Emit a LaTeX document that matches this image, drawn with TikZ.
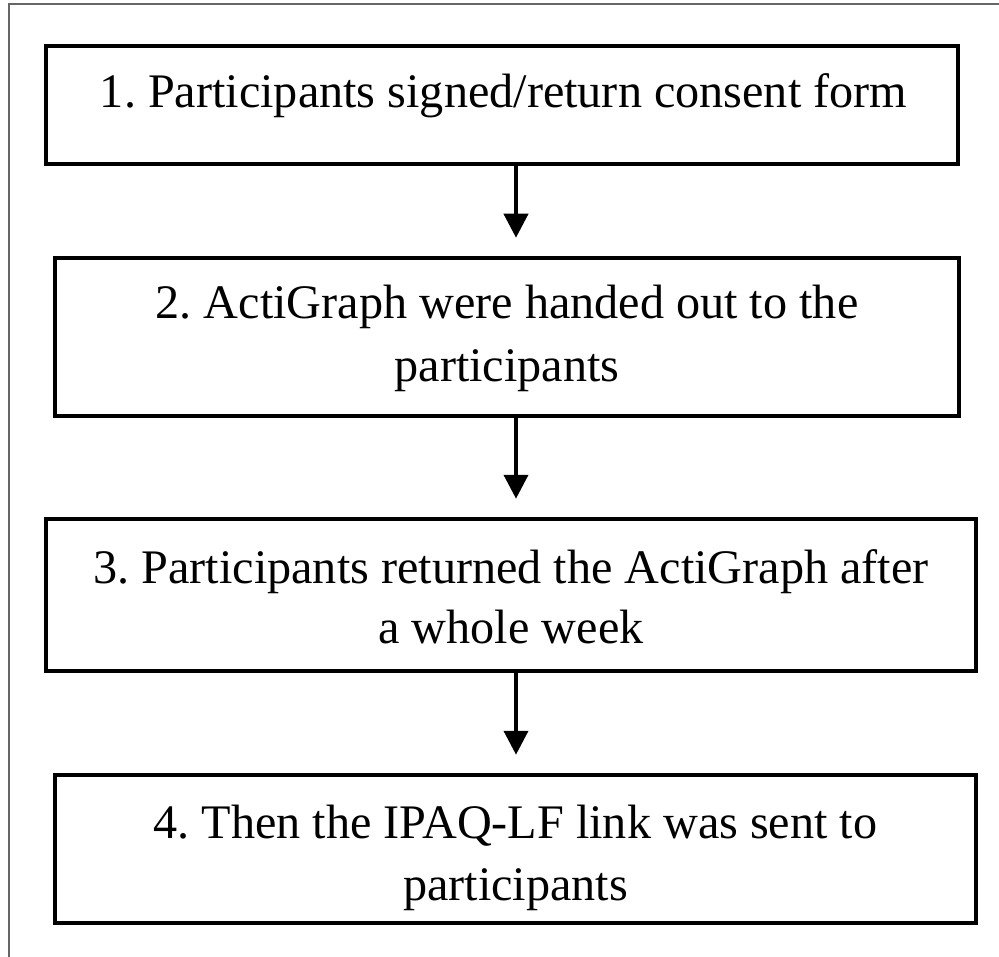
\documentclass[tikz,border=0pt]{standalone}
\usepackage{fontspec}
\setmainfont{Liberation Serif}
\usetikzlibrary{arrows.meta}
\frenchspacing
\begin{document}
\begin{tikzpicture}[x=1pt,y=-1pt,
  stepbox/.style={draw=black, line width=4.5pt, rectangle, inner sep=0pt},
  txt/.style={anchor=base, inner sep=0pt, font=\fontsize{48.2}{58}\selectfont},
  arr/.style={line width=4pt, -{Triangle[width=24pt,length=24pt]}, shorten >=18pt}]
\useasboundingbox (0,0) rectangle (999,957);
% outer frame (top and left only visible)
\coordinate (fa) at (9,957);
\coordinate (fb) at (9,4);
\coordinate (fc) at (999,4);
\draw[line width=1.5pt, black!60] (fa) -- (fb) -- (fc);
% boxes
\node[stepbox, minimum width=912pt, minimum height=118pt] (b1) at (502,105) {};
\node[stepbox, minimum width=904pt, minimum height=158pt] (b2) at (507,337) {};
\node[stepbox, minimum width=930pt, minimum height=152pt] (b3) at (511,595) {};
\node[stepbox, minimum width=921pt, minimum height=148pt] (b4) at (515.5,849) {};
% texts
\node[txt] (t1) at (503.5,108) {1. Participants signed/return consent form};
\node[txt] (t2a) at (507,319) {2. ActiGraph were handed out to the};
\node[txt] (t2b) at (507,382) {participants};
\node[txt] (t3a) at (511,583) {3. Participants returned the ActiGraph after};
\node[txt] (t3b) at (511,643) {a whole week};
\node[txt] (t4a) at (515.5,838) {4. Then the IPAQ-LF link was sent to};
\node[txt] (t4b) at (515.5,900) {participants};
% arrows
\coordinate (ax) at (516,0);
\draw[arr] (b1.south -| ax) -- (b2.north -| ax);
\draw[arr] (b2.south -| ax) -- (b3.north -| ax);
\draw[arr] (b3.south -| ax) -- (b4.north -| ax);
\end{tikzpicture}
\end{document}
